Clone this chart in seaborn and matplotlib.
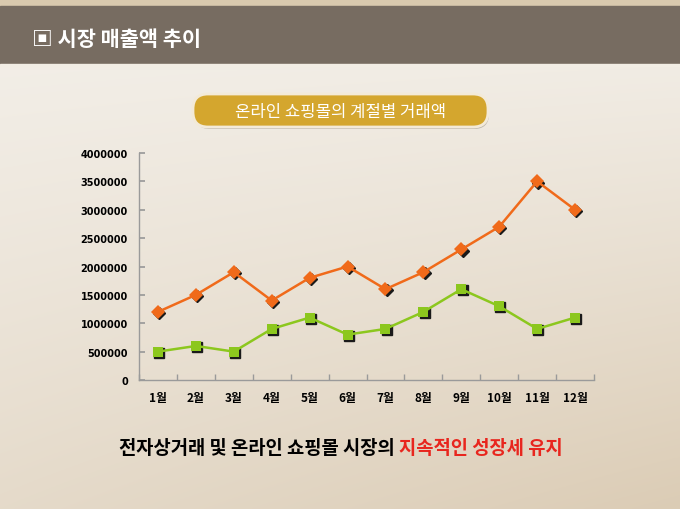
import numpy as np
import pandas as pd
import matplotlib
matplotlib.use("Agg")
import matplotlib.pyplot as plt
import matplotlib.transforms as mtransforms
from matplotlib.patches import FancyBboxPatch, Rectangle
import seaborn as sns

# ---- data ----
months = ["1월", "2월", "3월", "4월", "5월", "6월", "7월", "8월", "9월", "10월", "11월", "12월"]
series_orange = [1200000, 1500000, 1900000, 1400000, 1800000, 2000000,
                 1600000, 1900000, 2300000, 2700000, 3500000, 3000000]
series_green = [500000, 600000, 500000, 900000, 1100000, 800000,
                900000, 1200000, 1600000, 1300000, 900000, 1100000]
y_ticks = [0, 500000, 1000000, 1500000, 2000000, 2500000, 3000000, 3500000, 4000000]
header_title = "▣ 시장 매출액 추이"
badge_title = "온라인 쇼핑몰의 계절별 거래액"
footer_black = "전자상거래 및 온라인 쇼핑몰 시장의 "
footer_red = "지속적인 성장세 유지"

sns.set_theme(style="white")
KR = ["Noto Sans CJK KR", "DejaVu Sans"]
plt.rcParams["font.family"] = KR

df = pd.DataFrame({
    "month": months * 2,
    "value": series_orange + series_green,
    "series": ["a"] * len(months) + ["b"] * len(months),
})

W, H = 680, 510
fig = plt.figure(figsize=(6.8, 5.1), dpi=100)

# ---- background ----
bg = fig.add_axes([0, 0, 1, 1], zorder=-10)
yy = np.linspace(0, 1, 300)[:, None]
xx = np.linspace(0, 1, 400)[None, :]
top = np.array([0.955, 0.94, 0.915])
bot = np.array([0.86, 0.80, 0.71])
t = np.clip(0.6 * yy ** 1.2 + 0.4 * (yy * xx) ** 1.0, 0, 1)
img = top[None, None, :] * (1 - t[..., None]) + bot[None, None, :] * t[..., None]
img = np.clip(img, 0, 1)
bg.imshow(img, extent=[0, W, H, 0], origin="upper", aspect="auto")
bg.set_xlim(0, W)
bg.set_ylim(H, 0)
bg.axis("off")
# top strip and header band
bg.add_patch(Rectangle((0, 0), W, 7, color="#d9c9ae", zorder=1))
bg.add_patch(Rectangle((0, 7), W, 58, color="#776c61", zorder=1))
bg.add_patch(Rectangle((0, 65), W, 2, color="#f2ede4", zorder=1))
bg.text(32, 39, header_title, color="white", fontsize=15, fontweight="bold",
        va="center", ha="left", family=KR, zorder=2)

# badge
bg.add_patch(FancyBboxPatch((195, 97), 294, 33, boxstyle="round,pad=0,rounding_size=15",
                            facecolor="#aaa298", edgecolor="none", zorder=1, alpha=0.7))
bg.add_patch(FancyBboxPatch((193, 95), 295, 33, boxstyle="round,pad=0,rounding_size=15",
                            facecolor="#d4a62e", edgecolor="#f3ead8", linewidth=2, zorder=2))
bg.text(341, 112, badge_title, color="white", fontsize=12, fontweight="medium",
        va="center", ha="center", family=KR, zorder=3)

# footer
t1 = bg.text(399, 449, footer_black, color="black", fontsize=13.5, fontweight="bold",
             va="center", ha="right", family=KR)
bg.annotate(footer_red, xy=(1, 0.5), xycoords=t1, va="center", ha="left",
            color="#e8261e", fontsize=13.5, fontweight="bold", family=KR)

# ---- chart ----
ax = fig.add_axes([139 / W, 1 - 381 / H, (594 - 139) / W, (381 - 154) / H])
ax.set_facecolor("none")

palette = {"a": "#f06a1a", "b": "#8cc71e"}
markers = {"a": "D", "b": "s"}

shadow = mtransforms.offset_copy(ax.transData, fig=fig, x=0.9, y=-0.9, units="points")
for key, sizes in [("a", 6.2), ("b", 6.6)]:
    sub = df[df["series"] == key]
    ax.plot(sub["month"], sub["value"], linestyle="none", marker=markers[key],
            markersize=sizes, color="#1a1a1a", transform=shadow, zorder=2)

sns.lineplot(data=df, x="month", y="value", hue="series", style="series",
             palette=palette, markers=markers, dashes=False, ax=ax,
             linewidth=1.8, markersize=7, markeredgewidth=0, legend=False,
             sort=False, zorder=3)

ax.set_xlim(-0.5, len(months) - 0.5)
ax.set_ylim(0, 4000000)
ax.set_yticks(y_ticks)
ax.set_yticklabels([str(v) for v in y_ticks])
ax.set_xticks(range(len(months)))
ax.set_xticklabels(months)
ax.set_xticks(np.arange(len(months) + 1) - 0.5, minor=True)
ax.set_xlabel("")
ax.set_ylabel("")

for side in ["top", "right"]:
    ax.spines[side].set_visible(False)
for side in ["left", "bottom"]:
    ax.spines[side].set_color("#9a9a9a")
    ax.spines[side].set_linewidth(1)

ax.tick_params(axis="x", which="major", length=0, pad=8, labelsize=8.5, labelcolor="black")
ax.tick_params(axis="x", which="minor", length=4, direction="in", color="#9a9a9a", bottom=True)
ax.tick_params(axis="y", which="major", length=4, direction="in", color="#9a9a9a",
               pad=8, labelsize=7, labelcolor="black", left=True)
for lab in ax.get_xticklabels():
    lab.set_fontweight("bold")
for lab in ax.get_yticklabels():
    lab.set_fontweight("bold")
    lab.set_family("DejaVu Sans")

fig.savefig("out.png", dpi=100)
